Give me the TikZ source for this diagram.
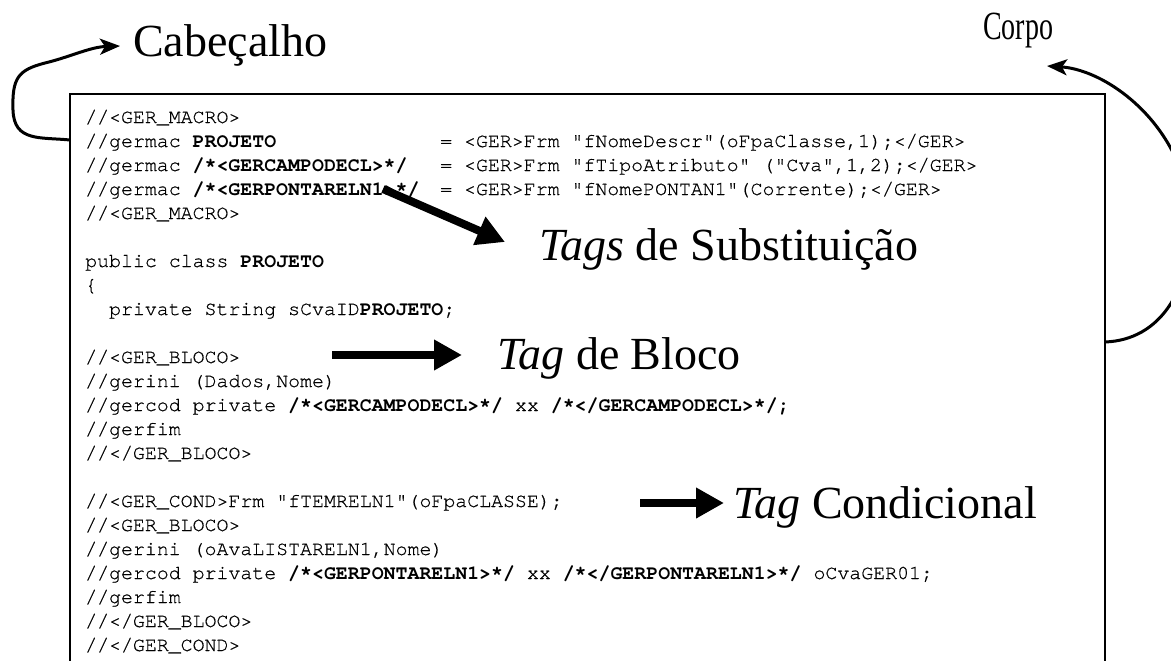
\documentclass[tikz,border=0pt]{standalone}
\usepackage{fontspec}
\setmainfont{Liberation Serif}
\setmonofont{texgyrecursor-regular.otf}[BoldFont=texgyrecursor-bold.otf,Ligatures=NoCommon,UprightFeatures={FakeBold=0.6}]
\usetikzlibrary{arrows.meta,calc}
\newlength\cw
\setlength\cw{11.94pt}
\begin{document}
\begin{tikzpicture}[x=1pt,y=-1pt,
  code/.style={anchor=base west, inner sep=0pt, font=\fontsize{19.9pt}{24pt}\selectfont\ttfamily},
  lbl/.style={anchor=base west, inner sep=0pt, font=\fontsize{46pt}{50pt}\selectfont},
  bigarrow/.style={line width=8pt, -{Triangle[length=28pt,width=29pt]}},
  curvearrow/.style={line width=3pt, -{Stealth[length=20pt,width=16pt,inset=5pt]}},
  frame/.style={line width=1.6pt}
]
\useasboundingbox (0,0) rectangle (1171,661);
% code frame (open at the bottom)
\draw[frame] (70,680) -- (70,94) -- (1105,94) -- (1105,680);
\coordinate (boxL) at (70,140);
\coordinate (boxR) at (1105,342);

% code lines
\node[code] (l1)  at (85,123) {//<GER\_MACRO>};
\node[code] (l2)  at (85,147) {\makebox[355pt][l]{//germac \textbf{PROJETO}}= <GER>Frm "fNomeDescr"(oFpaClasse,1);</GER>};
\node[code] (l3)  at (85,171) {\makebox[355pt][l]{//germac \textbf{/*<GERCAMPODECL>*/}}= <GER>Frm "fTipoAtributo" ("Cva",1,2);</GER>};
\node[code] (l4)  at (85,195) {\makebox[355pt][l]{//germac \textbf{/*<GERPONTARELN1>*/}}= <GER>Frm "fNomePONTAN1"(Corrente);</GER>};
\node[code] (l5)  at (85,219) {//<GER\_MACRO>};
\node[code] (l7)  at (85,267) {public class \textbf{PROJETO}};
\node[code] (l8)  at (85,291) {\{};
\node[code] (l9)  at (85,315) {\hspace*{2\cw}private String sCvaID\textbf{PROJETO};};
\node[code] (l11) at (85,363) {//<GER\_BLOCO>};
\node[code] (l12) at (85,387) {//gerini (Dados,Nome)};
\node[code] (l13) at (85,411) {//gercod private \textbf{/*<GERCAMPODECL>*/} xx \textbf{/*</GERCAMPODECL>*/;}};
\node[code] (l14) at (85,435) {//gerfim};
\node[code] (l15) at (85,459) {//</GER\_BLOCO>};
\node[code] (l17) at (85,507) {//<GER\_COND>Frm "fTEMRELN1"(oFpaCLASSE);};
\node[code] (l18) at (85,531) {//<GER\_BLOCO>};
\node[code] (l19) at (85,555) {//gerini (oAvaLISTARELN1,Nome)};
\node[code] (l20) at (85,579) {//gercod private \textbf{/*<GERPONTARELN1>*/} xx \textbf{/*</GERPONTARELN1>*/} oCvaGER01;};
\node[code] (l21) at (85,603) {//gerfim};
\node[code] (l22) at (85,627) {//</GER\_BLOCO>};
\node[code] (l23) at (85,651) {//</GER\_COND>};

% labels
\node[lbl] (cab) at (133,57) {Cabeçalho};
\node[anchor=base west, inner sep=0pt] (corpo) at (983,40) {\scalebox{0.7}[1]{\fontsize{40pt}{44pt}\selectfont Corpo}};
\node[lbl] (subst) at (539,260) {\textit{Tags} de Substituição};
\node[lbl] (bloco) at (497,369) {\textit{Tag} de Bloco};
\node[lbl] (cond) at (733,518) {\textit{Tag} Condicional};

% arrow start points
\coordinate (substStart) at (383,189);
\coordinate (blocoStart) at (332,355);
\coordinate (condStart) at (640,503);

% straight arrows
\draw[bigarrow] (substStart) -- ($(subst.base west)+(-34,-18)$);
\draw[bigarrow] (blocoStart) -- ($(bloco.base west)+(-35,-14)$);
\draw[bigarrow] (condStart) -- ($(cond.base west)+(-9,-15)$);

% curved arrows
\draw[curvearrow] (boxL) .. controls (40,137) and (14,142) .. (13,110)
  .. controls (12,78) and (18,70) .. (45,63)
  .. controls (70,57) and (90,47) .. ($(cab.base west)+(-13,-11)$);
\draw[curvearrow] (boxR) .. controls (1160,340) and (1192,290) .. (1190,220)
  .. controls (1188,130) and (1110,70) .. ($(corpo.base west)+(64,26)$);
\end{tikzpicture}
\end{document}
